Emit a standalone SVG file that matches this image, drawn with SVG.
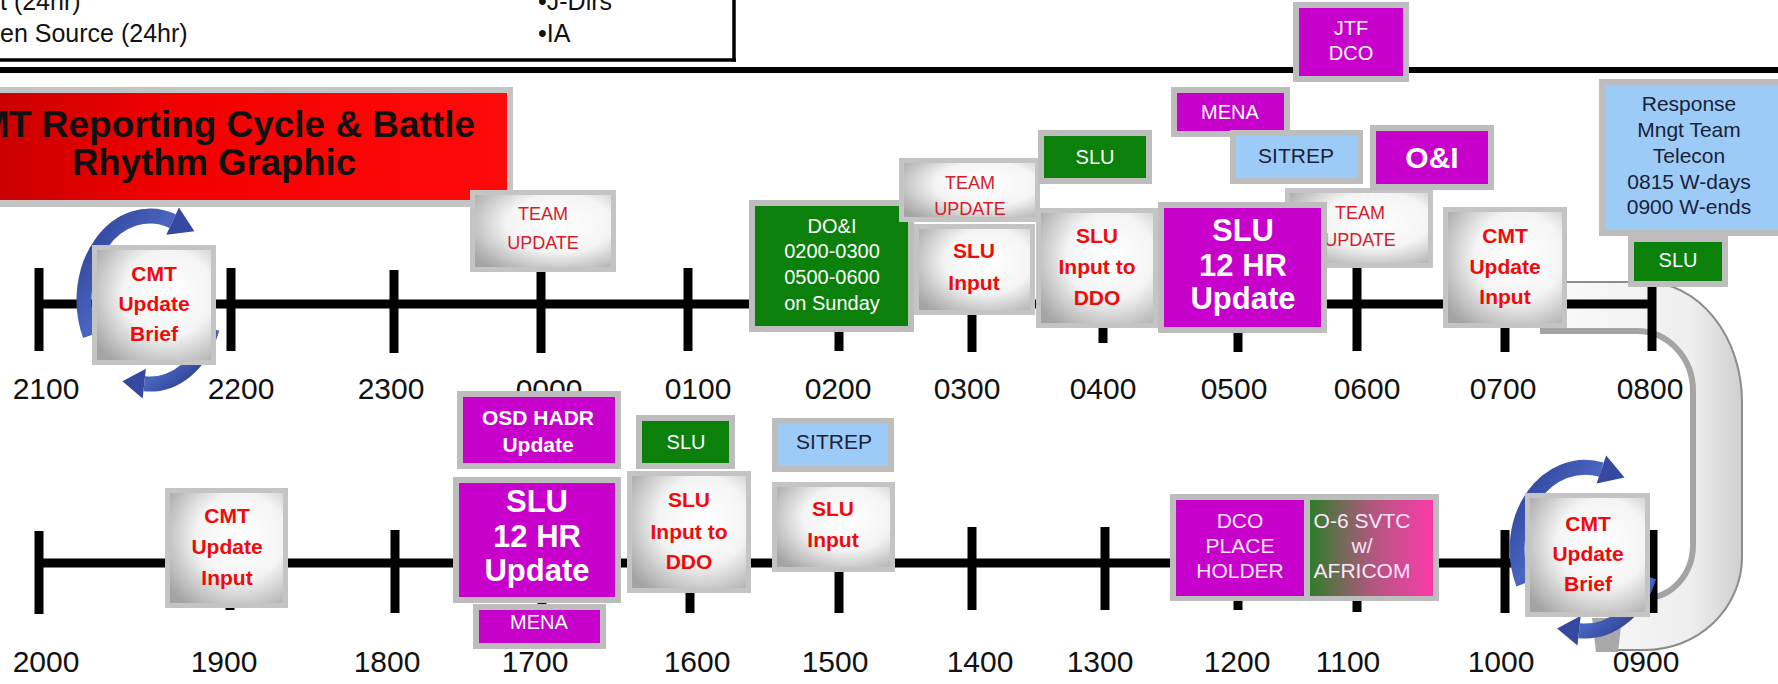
<svg xmlns="http://www.w3.org/2000/svg" width="1778" height="684" viewBox="0 0 1778 684">
<defs>
<radialGradient id="silver" cx="0.62" cy="0.4" r="0.75">
<stop offset="0" stop-color="#ffffff"/>
<stop offset="0.5" stop-color="#f4f4f4"/>
<stop offset="1" stop-color="#a4a4a4"/>
</radialGradient>
<linearGradient id="redg" x1="0" y1="0" x2="1" y2="0">
<stop offset="0" stop-color="#c80000"/>
<stop offset="0.35" stop-color="#f20000"/>
<stop offset="1" stop-color="#ff0a0a"/>
</linearGradient>
<linearGradient id="o6" x1="0" y1="0" x2="1" y2="0">
<stop offset="0" stop-color="#2f7d2a"/>
<stop offset="0.5" stop-color="#b0587e"/>
<stop offset="1" stop-color="#fb3aaa"/>
</linearGradient>
<linearGradient id="band" gradientUnits="userSpaceOnUse" x1="1540" y1="0" x2="1742" y2="0">
<stop offset="0" stop-color="#fafafa"/>
<stop offset="0.75" stop-color="#eeeeee"/>
<stop offset="1" stop-color="#cfcfcf"/>
</linearGradient>
<linearGradient id="bl" x1="0" y1="0" x2="1" y2="1">
<stop offset="0" stop-color="#2c3f96"/>
<stop offset="0.5" stop-color="#4a66c0"/>
<stop offset="1" stop-color="#1f2f7c"/>
</linearGradient>
<style>
text{font-family:"Liberation Sans",Arial,sans-serif}
.sv{fill:url(#silver);stroke:#c4c4c4;stroke-width:5}
.gr{fill:#0b800b;stroke:#bdbdbd;stroke-width:6}
.mg{fill:#c800cc;stroke:#bdbdbd;stroke-width:6}
.lb{fill:#9ccbf8;stroke:#bdbdbd;stroke-width:6}
.r{fill:#f00a0a;font-weight:bold;font-size:21px;text-anchor:middle}
.tu{fill:#d41c2c;font-size:18px;text-anchor:middle}
.w{fill:#ffffff;font-size:20px;text-anchor:middle}
.wb{fill:#ffffff;font-weight:bold;font-size:31px;text-anchor:middle}
.wm{fill:#ffffff;font-weight:bold;font-size:21px;text-anchor:middle}
.pk{fill:#ffe4ff;font-size:21px;text-anchor:middle}
.dk{fill:#1a2238;font-size:21px;text-anchor:middle}
.lab{fill:#111111;font-size:30px;text-anchor:middle}
.tt{fill:#111111;font-size:37px;font-weight:bold}
.tick{stroke:#000;stroke-width:9}
.axis{stroke:#000;stroke-width:9}
.arc{fill:none;stroke:url(#bl);stroke-width:15}
.ah{fill:#34499f}
</style>
</defs>
<rect width="1778" height="684" fill="#ffffff"/>

<g id="legend-box">
<line x1="0" y1="60" x2="736" y2="60" stroke="#000" stroke-width="3.5"/>
<line x1="734" y1="0" x2="734" y2="61.5" stroke="#000" stroke-width="3.5"/>
<text x="0" y="10" font-size="25" fill="#111">t (24hr)</text>
<text x="0" y="42" font-size="25" fill="#111">en Source (24hr)</text>
<text x="538" y="10" font-size="25" fill="#111">•J-Dirs</text>
<text x="538" y="42" font-size="25" fill="#111">•IA</text>
</g>
<line id="divider" x1="0" y1="70" x2="1778" y2="70" stroke="#000" stroke-width="6"/>

<g id="title">
<rect x="-10" y="87" width="523" height="120" fill="#c4c4c4"/>
<rect x="-10" y="93" width="517" height="107" fill="url(#redg)"/>
<text class="tt" y="137"><tspan x="-48">CM</tspan><tspan x="9" textLength="466" lengthAdjust="spacingAndGlyphs">T Reporting Cycle &amp; Battle</tspan></text>
<text class="tt" x="72" y="175" textLength="284" lengthAdjust="spacingAndGlyphs">Rhythm Graphic</text>
</g>

<g id="uturn">
<path d="M1540 282 H1645 A97 120 0 0 1 1742 402 V557 A97 93 0 0 1 1645 650 H1596 L1592 598 H1645 A48 53 0 0 0 1693 545 V392 A56 60 0 0 0 1637 332 H1540 Z" fill="url(#band)"/>
<path d="M1567 282 H1645 A97 120 0 0 1 1742 402 V557 A97 93 0 0 1 1645 650 H1600" fill="none" stroke="#8c8c8c" stroke-width="2"/>
<path d="M1540 331 H1637 A56 60 0 0 1 1693 391 V545 A48 53 0 0 1 1645 598 H1600" fill="none" stroke="#a4a4a4" stroke-width="6"/>
<path d="M1592 618 L1622 618 L1618 652 L1596 652 Z" fill="#a8a8a8"/>
</g>

<g id="connectors">
<line class="axis" x1="39" y1="304" x2="1652" y2="304"/>
<line class="axis" x1="39" y1="563" x2="1653" y2="563"/>
<g class="tick">
<line x1="39" y1="268" x2="39" y2="351"/>
<line x1="231" y1="268" x2="231" y2="351"/>
<line x1="394" y1="270" x2="394" y2="353"/>
<line x1="541" y1="270" x2="541" y2="353"/>
<line x1="688" y1="268" x2="688" y2="351"/>
<line x1="839" y1="268" x2="839" y2="351"/>
<line x1="972" y1="268" x2="972" y2="352"/>
<line x1="1103" y1="268" x2="1103" y2="343"/>
<line x1="1238" y1="268" x2="1238" y2="352"/>
<line x1="1357" y1="268" x2="1357" y2="351"/>
<line x1="1505" y1="268" x2="1505" y2="352"/>
<line x1="1652" y1="268" x2="1652" y2="351"/>
<line x1="39" y1="531" x2="39" y2="614"/>
<line x1="230" y1="531" x2="230" y2="610"/>
<line x1="395" y1="530" x2="395" y2="613"/>
<line x1="542" y1="530" x2="542" y2="610"/>
<line x1="690" y1="530" x2="690" y2="613"/>
<line x1="839" y1="530" x2="839" y2="613"/>
<line x1="972" y1="527" x2="972" y2="610"/>
<line x1="1105" y1="527" x2="1105" y2="610"/>
<line x1="1238" y1="530" x2="1238" y2="610"/>
<line x1="1357" y1="530" x2="1357" y2="612"/>
<line x1="1505" y1="530" x2="1505" y2="613"/>
<line x1="1653" y1="530" x2="1653" y2="613"/>
</g>
</g>

<g id="axis-labels">
<text class="lab" x="46" y="399">2100</text>
<text class="lab" x="241" y="399">2200</text>
<text class="lab" x="391" y="399">2300</text>
<text class="lab" x="549" y="400">0000</text>
<text class="lab" x="698" y="399">0100</text>
<text class="lab" x="838" y="399">0200</text>
<text class="lab" x="967" y="399">0300</text>
<text class="lab" x="1103" y="399">0400</text>
<text class="lab" x="1234" y="399">0500</text>
<text class="lab" x="1367" y="399">0600</text>
<text class="lab" x="1503" y="399">0700</text>
<text class="lab" x="1650" y="399">0800</text>
<text class="lab" x="46" y="672">2000</text>
<text class="lab" x="224" y="672">1900</text>
<text class="lab" x="387" y="672">1800</text>
<text class="lab" x="535" y="672">1700</text>
<text class="lab" x="697" y="672">1600</text>
<text class="lab" x="835" y="672">1500</text>
<text class="lab" x="980" y="672">1400</text>
<text class="lab" x="1100" y="672">1300</text>
<text class="lab" x="1237" y="672">1200</text>
<text class="lab" x="1348" y="672">1100</text>
<text class="lab" x="1501" y="672">1000</text>
<text class="lab" x="1646" y="672">0900</text>
</g>

<g id="cycle-arrow-left">
<path class="arc" d="M90.2 335.5 A66 84 0 0 1 172.6 221.1"/>
<polygon class="ah" points="166.3,234.7 178.9,207.5 194.4,231.2"/>
<path class="arc" d="M212 328.7 A66 84 0 0 1 144.3 383.7"/>
<polygon class="ah" points="145.9,368.8 142.6,398.6 122.4,381.3"/>
</g>
<g id="cycle-arrow-right">
<path class="arc" d="M1523.4 583.7 A68 82 0 0 1 1601.4 469.6"/>
<polygon class="ah" points="1596.6,483.6 1606.2,455.6 1624.5,477.4"/>
<path class="arc" d="M1648.9 577 A68 82 0 0 1 1579.1 630.7"/>
<polygon class="ah" points="1580.7,615.8 1577.5,645.6 1557.1,628.4"/>
</g>

<g id="n-cmt-brief-2130">
<rect class="sv" x="94.5" y="247.5" width="119" height="115"/>
<text class="r" x="154" y="281">CMT</text>
<text class="r" x="154" y="311">Update</text>
<text class="r" x="154" y="341">Brief</text>
</g>
<g id="n-team-update-0000">
<rect class="sv" x="472.5" y="192.5" width="141" height="77"/>
<text class="tu" x="543" y="219.5">TEAM</text>
<text class="tu" x="543" y="248.5">UPDATE</text>
</g>
<g id="n-doi">
<rect class="gr" x="752" y="203" width="159" height="126"/>
<text class="w" x="832" y="233">DO&amp;I</text>
<text class="w" x="832" y="258">0200-0300</text>
<text class="w" x="832" y="284">0500-0600</text>
<text class="w" x="832" y="310">on Sunday</text>
</g>
<g id="n-team-update-0300">
<rect class="sv" x="901.5" y="160.5" width="136" height="59"/>
<text class="tu" x="970" y="188.5">TEAM</text>
<text class="tu" x="970" y="214.5">UPDATE</text>
</g>
<g id="n-slu-input-0300">
<rect class="sv" x="916.5" y="226.5" width="116" height="86"/>
<text class="r" x="974" y="257.5">SLU</text>
<text class="r" x="974" y="289.5">Input</text>
</g>
<g id="n-slu-0400">
<rect class="gr" x="1041" y="133" width="108" height="48"/>
<text class="w" x="1095" y="164">SLU</text>
</g>
<g id="n-slu-ddo-0400">
<rect class="sv" x="1038.5" y="210.5" width="117" height="115"/>
<text class="r" x="1097" y="242.5">SLU</text>
<text class="r" x="1097" y="273.5">Input to</text>
<text class="r" x="1097" y="304.5">DDO</text>
</g>
<g id="n-jtf-dco">
<rect class="mg" x="1296" y="5" width="110" height="74"/>
<text class="w" x="1351" y="35">JTF</text>
<text class="w" x="1351" y="60">DCO</text>
</g>
<g id="n-mena-top">
<rect class="mg" x="1174" y="90" width="113" height="44"/>
<text class="w" x="1230" y="119">MENA</text>
</g>
<g id="n-team-update-0600">
<rect class="sv" x="1287.5" y="190.5" width="143" height="75"/>
<text class="tu" x="1360" y="218.5">TEAM</text>
<text class="tu" x="1360" y="245.5">UPDATE</text>
</g>
<g id="n-sitrep-top">
<rect class="lb" x="1233" y="133" width="127" height="48"/>
<text class="dk" x="1296" y="163">SITREP</text>
</g>
<g id="n-oi">
<rect class="mg" x="1373" y="128" width="118" height="59"/>
<text x="1432" y="168" font-size="30" font-weight="bold" fill="#fff" text-anchor="middle">O&amp;I</text>
</g>
<g id="n-slu-12hr-0500">
<rect class="mg" x="1161" y="205" width="163" height="125"/>
<text class="wb" x="1243" y="241">SLU</text>
<text class="wb" x="1243" y="276">12 HR</text>
<text class="wb" x="1243" y="309">Update</text>
</g>
<g id="n-cmt-input-0700">
<rect class="sv" x="1445.5" y="209.5" width="119" height="116"/>
<text class="r" x="1505" y="242.5">CMT</text>
<text class="r" x="1505" y="273.5">Update</text>
<text class="r" x="1505" y="303.5">Input</text>
</g>
<g id="n-response">
<rect class="lb" x="1602" y="82" width="180" height="151"/>
<text class="dk" x="1689" y="110.5">Response</text>
<text class="dk" x="1689" y="136.5">Mngt Team</text>
<text class="dk" x="1689" y="162.5">Telecon</text>
<text class="dk" x="1689" y="188.5">0815 W-days</text>
<text class="dk" x="1689" y="213.5">0900 W-ends</text>
</g>
<g id="n-slu-0800">
<rect class="gr" x="1631" y="239" width="94" height="45"/>
<text class="w" x="1678" y="267">SLU</text>
</g>

<g id="n-cmt-input-1900">
<rect class="sv" x="167.5" y="490.5" width="118" height="115"/>
<text class="r" x="227" y="522.5">CMT</text>
<text class="r" x="227" y="553.5">Update</text>
<text class="r" x="227" y="584.5">Input</text>
</g>
<g id="n-osd-hadr">
<rect class="mg" x="460" y="394" width="158" height="72"/>
<text class="wm" x="538" y="425">OSD HADR</text>
<text class="wm" x="538" y="451.5">Update</text>
</g>
<g id="n-slu-12hr-1700">
<rect class="mg" x="456" y="480" width="162" height="120"/>
<text class="wb" x="537" y="511.5">SLU</text>
<text class="wb" x="537" y="546.5">12 HR</text>
<text class="wb" x="537" y="581">Update</text>
</g>
<g id="n-mena-bottom">
<rect class="mg" x="476" y="607" width="127" height="39"/>
<text class="w" x="539" y="629">MENA</text>
</g>
<g id="n-slu-1600">
<rect class="gr" x="639" y="418" width="93" height="48"/>
<text class="w" x="686" y="449">SLU</text>
</g>
<g id="n-slu-ddo-1600">
<rect class="sv" x="629.5" y="473.5" width="119" height="117"/>
<text class="r" x="689" y="506.5">SLU</text>
<text class="r" x="689" y="538.5">Input to</text>
<text class="r" x="689" y="568.5">DDO</text>
</g>
<g id="n-sitrep-bottom">
<rect class="lb" x="775" y="421" width="116" height="48"/>
<text class="dk" x="834" y="449">SITREP</text>
</g>
<g id="n-slu-input-1500">
<rect class="sv" x="774.5" y="484.5" width="118" height="85"/>
<text class="r" x="833" y="515.5">SLU</text>
<text class="r" x="833" y="546.5">Input</text>
</g>
<g id="n-dco-placeholder">
<rect x="1170" y="494" width="269" height="107" fill="#bdbdbd"/>
<rect x="1176" y="500" width="128" height="96" fill="#c800cc"/>
<text class="pk" x="1240" y="527.5">DCO</text>
<text class="pk" x="1240" y="552.5">PLACE</text>
<text class="pk" x="1240" y="577.5">HOLDER</text>
</g>
<g id="n-o6-svtc">
<rect x="1310" y="500" width="123" height="96" fill="url(#o6)"/>
<text class="pk" x="1362" y="527.5">O-6 SVTC</text>
<text class="pk" x="1362" y="552.5">w/</text>
<text class="pk" x="1362" y="577.5">AFRICOM</text>
</g>
<g id="n-cmt-brief-0930">
<rect class="sv" x="1527.5" y="495.5" width="120" height="119"/>
<text class="r" x="1588" y="530.5">CMT</text>
<text class="r" x="1588" y="560.5">Update</text>
<text class="r" x="1588" y="590.5">Brief</text>
</g>
</svg>
